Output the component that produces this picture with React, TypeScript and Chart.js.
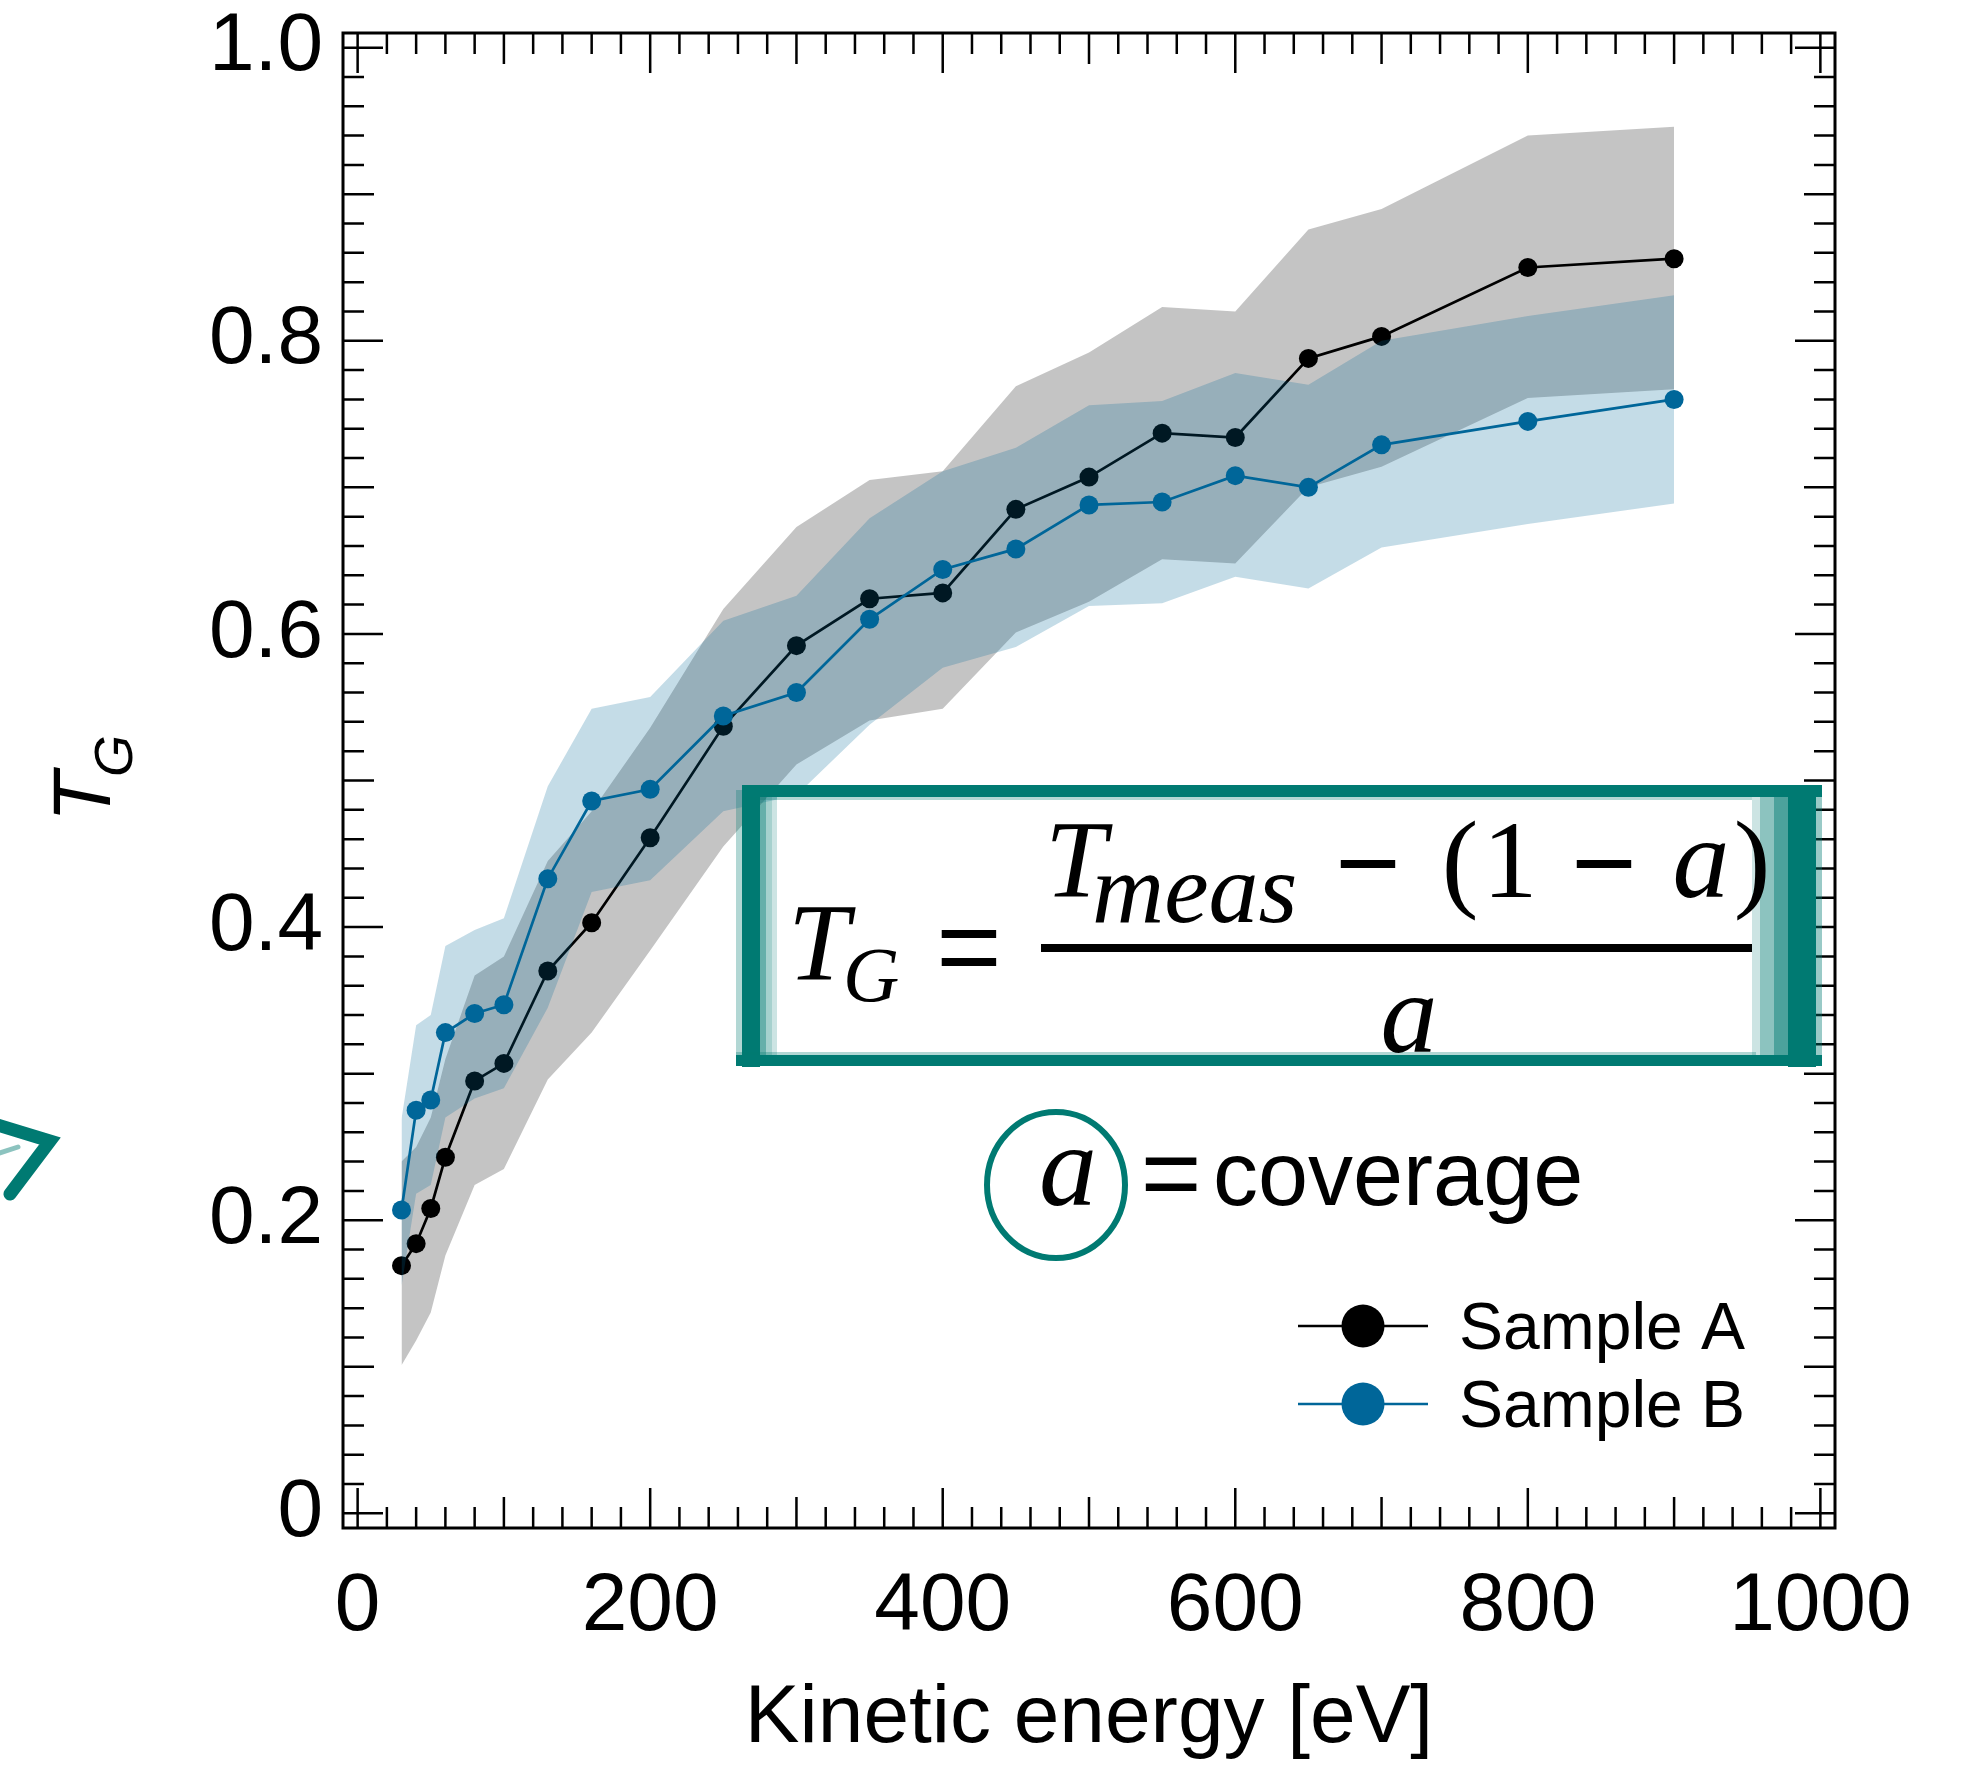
import React, { useEffect, useRef } from 'react';
import { Chart, registerables } from 'chart.js';

Chart.register(...registerables);

// ---------------- data ----------------
const energies = [30, 40, 50, 60, 80, 100, 130, 160, 200, 250, 300, 350, 400, 450, 500, 550, 600, 650, 700, 800, 900];

const sampleA = [0.169, 0.184, 0.208, 0.243, 0.295, 0.307, 0.370, 0.403, 0.461, 0.537, 0.592, 0.624, 0.628, 0.685, 0.707, 0.737, 0.734, 0.788, 0.803, 0.850, 0.856];
const sampleALow = [0.101, 0.118, 0.137, 0.176, 0.224, 0.235, 0.296, 0.328, 0.384, 0.455, 0.511, 0.541, 0.549, 0.601, 0.622, 0.651, 0.648, 0.700, 0.714, 0.761, 0.767];
const sampleAHigh = [0.240, 0.250, 0.270, 0.310, 0.367, 0.380, 0.445, 0.479, 0.536, 0.617, 0.673, 0.705, 0.711, 0.769, 0.792, 0.823, 0.820, 0.876, 0.890, 0.940, 0.946];

const sampleB = [0.207, 0.275, 0.282, 0.328, 0.341, 0.347, 0.433, 0.486, 0.494, 0.544, 0.560, 0.610, 0.644, 0.658, 0.688, 0.690, 0.708, 0.700, 0.729, 0.745, 0.760];
const sampleBLow = [0.155, 0.218, 0.224, 0.270, 0.283, 0.290, 0.345, 0.424, 0.432, 0.479, 0.490, 0.538, 0.577, 0.591, 0.619, 0.621, 0.639, 0.631, 0.659, 0.675, 0.689];
const sampleBHigh = [0.269, 0.333, 0.340, 0.387, 0.398, 0.406, 0.496, 0.549, 0.557, 0.609, 0.626, 0.679, 0.711, 0.727, 0.756, 0.759, 0.778, 0.770, 0.800, 0.817, 0.831];

const xTicks = [0, 200, 400, 600, 800, 1000];
const xTickLabels = ['0', '200', '400', '600', '800', '1000'];
const yTicks = [0, 0.2, 0.4, 0.6, 0.8, 1.0];
const yTickLabels = ['0', '0.2', '0.4', '0.6', '0.8', '1.0'];

const seriesNames = ['Sample A', 'Sample B'];
const xTitle = 'Kinetic energy [eV]';

// ---------------- style ----------------
const SANS = '"Liberation Sans", Arial, Helvetica, sans-serif';
const SERIF = '"Liberation Serif", "Times New Roman", serif';
const BLACK = '#000000';
const BLUE = '#006699';
const TEAL = '#007a72';

const toXY = (ys: number[]) => ys.map((y, i) => ({ x: energies[i], y }));

const framePlugin = {
  id: 'frameTicks',
  afterDraw(chart: any) {
    const { ctx, chartArea, scales } = chart;
    const { left, right, top, bottom } = chartArea;
    const x = scales.x;
    const y = scales.y;
    ctx.save();
    ctx.strokeStyle = '#000';
    ctx.lineWidth = 2.5;
    ctx.beginPath();
    for (let i = 0; i <= 50; i++) {
      const v = i * 20;
      const px = x.getPixelForValue(v);
      const len = i % 10 === 0 ? 40 : i % 5 === 0 ? 31 : 21;
      ctx.moveTo(px, bottom);
      ctx.lineTo(px, bottom - len);
      ctx.moveTo(px, top);
      ctx.lineTo(px, top + len);
    }
    for (let i = 0; i <= 50; i++) {
      const v = i * 0.02;
      const py = y.getPixelForValue(v);
      const len = i % 10 === 0 ? 40 : i % 5 === 0 ? 31 : 21;
      ctx.moveTo(left, py);
      ctx.lineTo(left + len, py);
      ctx.moveTo(right, py);
      ctx.lineTo(right - len, py);
    }
    ctx.stroke();
    ctx.lineWidth = 3;
    ctx.strokeRect(left, top, right - left, bottom - top);

    // y axis title T_G
    ctx.fillStyle = '#000';
    ctx.save();
    ctx.translate(110, 822);
    ctx.rotate(-Math.PI / 2);
    ctx.textAlign = 'left';
    ctx.textBaseline = 'alphabetic';
    ctx.font = `italic 82px ${SANS}`;
    ctx.fillText('T', 0, 0);
    ctx.font = `italic 54px ${SANS}`;
    ctx.fillText('G', 45, 22);
    ctx.restore();

    // legend
    const legendRows = [
      { name: seriesNames[0], color: BLACK, ly: 1326, ty: 1349 },
      { name: seriesNames[1], color: BLUE, ly: 1404, ty: 1427 },
    ];
    for (const r of legendRows) {
      ctx.strokeStyle = r.color;
      ctx.fillStyle = r.color;
      ctx.lineWidth = 2.7;
      ctx.beginPath();
      ctx.moveTo(1298, r.ly);
      ctx.lineTo(1428, r.ly);
      ctx.stroke();
      ctx.beginPath();
      ctx.arc(1363, r.ly, 21.5, 0, Math.PI * 2);
      ctx.fill();
      ctx.fillStyle = '#000';
      ctx.font = `66px ${SANS}`;
      ctx.textAlign = 'left';
      ctx.fillText(r.name, 1459, r.ty);
    }

    // teal annotation box
    ctx.fillStyle = '#ffffff';
    ctx.fillRect(777, 797, 977, 258);
    ctx.fillStyle = TEAL;
    const strips: [number, number, number, number, number][] = [
      // x, y, w, h, alpha
      [736, 790, 6, 276, 0.3],
      [742, 786, 18, 281, 1],
      [760, 790, 6, 272, 0.6],
      [766, 792, 6, 268, 0.35],
      [772, 795, 5, 262, 0.2],
      [1752, 790, 8, 272, 0.2],
      [1760, 788, 14, 276, 0.45],
      [1774, 786, 14, 280, 0.7],
      [1788, 786, 28, 281, 1],
      [1816, 790, 6, 275, 0.4],
      [742, 785, 1080, 12, 1],
      [742, 797, 1010, 3, 0.3],
      [736, 1055, 1086, 11, 1],
      [736, 1052, 1020, 3, 0.3],
    ];
    for (const [sx, sy, sw, sh, a] of strips) {
      ctx.globalAlpha = a;
      ctx.fillRect(sx, sy, sw, sh);
    }
    ctx.globalAlpha = 1;

    // formula
    ctx.fillStyle = '#000';
    const put = (t: string, font: string, px: number, py: number, align: CanvasTextAlign) => {
      ctx.font = font;
      ctx.textAlign = align;
      ctx.fillText(t, px, py);
    };
    put('T', `italic 110px ${SERIF}`, 788, 980, 'left');
    put('G', `italic 78px ${SERIF}`, 843, 1001, 'left');
    put('=', `112px ${SANS}`, 969, 985, 'center');
    ctx.fillRect(1041, 944, 711, 8);
    put('T', `italic 110px ${SERIF}`, 1045, 897, 'left');
    put('meas', `italic 100px ${SERIF}`, 1092, 922, 'left');
    put('\u2212', `112px ${SANS}`, 1368, 901, 'center');
    put('(', `110px ${SERIF}`, 1460, 897, 'center');
    put('1', `110px ${SERIF}`, 1510, 897, 'center');
    put('\u2212', `112px ${SANS}`, 1604, 901, 'center');
    put('a', `italic 114px ${SERIF}`, 1701, 897, 'center');
    put(')', `110px ${SERIF}`, 1752, 897, 'center');
    put('a', `italic 114px ${SERIF}`, 1409, 1052, 'center');

    // a = coverage
    ctx.strokeStyle = TEAL;
    ctx.lineWidth = 6;
    ctx.beginPath();
    ctx.ellipse(1056, 1185, 69, 73, 0, 0, Math.PI * 2);
    ctx.stroke();
    put('a', `italic 116px ${SERIF}`, 1068, 1205, 'center');
    put('=', `104px ${SANS}`, 1171, 1208, 'center');
    put('coverage', `90px ${SANS}`, 1213, 1205, 'left');

    // teal arrow at the left edge
    ctx.strokeStyle = TEAL;
    ctx.lineCap = 'round';
    ctx.lineJoin = 'miter';
    ctx.lineWidth = 13;
    ctx.beginPath();
    ctx.moveTo(-6, 1124);
    ctx.lineTo(50, 1141);
    ctx.lineTo(10, 1194);
    ctx.stroke();
    ctx.globalAlpha = 0.45;
    ctx.lineWidth = 5;
    ctx.beginPath();
    ctx.moveTo(0, 1153);
    ctx.lineTo(18, 1147);
    ctx.stroke();
    ctx.globalAlpha = 1;

    ctx.restore();
  },
};

export default function App() {
  const ref = useRef<HTMLCanvasElement | null>(null);

  useEffect(() => {
    document.body.style.margin = '0';
    const canvas = ref.current;
    if (!canvas) return;
    const band = (label: string, data: number[], order: number) => ({
      label,
      data: toXY(data),
      order,
      borderWidth: 0,
      borderColor: 'rgba(0,0,0,0)',
      pointRadius: 0,
      pointHoverRadius: 0,
      pointHitRadius: 0,
      tension: 0,
    });
    const chart = new Chart(canvas, {
      type: 'line',
      data: {
        datasets: [
          { ...band('A low', sampleALow, 5), fill: false },
          { ...band('A high', sampleAHigh, 4), fill: { target: '-1' }, backgroundColor: 'rgba(0,0,0,0.23)' },
          {
            label: seriesNames[0],
            data: toXY(sampleA),
            order: 3,
            borderColor: BLACK,
            backgroundColor: BLACK,
            borderWidth: 2.7,
            pointRadius: 9.5,
            pointBorderWidth: 0,
            pointBackgroundColor: BLACK,
            fill: false,
            tension: 0,
          },
          { ...band('B low', sampleBLow, 2), fill: false },
          { ...band('B high', sampleBHigh, 1), fill: { target: '-1' }, backgroundColor: 'rgba(0,102,153,0.23)' },
          {
            label: seriesNames[1],
            data: toXY(sampleB),
            order: 0,
            borderColor: BLUE,
            backgroundColor: BLUE,
            borderWidth: 2.7,
            pointRadius: 9.5,
            pointBorderWidth: 0,
            pointBackgroundColor: BLUE,
            fill: false,
            tension: 0,
          },
        ] as any,
      },
      options: {
        animation: false,
        responsive: false,
        maintainAspectRatio: false,
        devicePixelRatio: 1,
        layout: { padding: { top: 33, right: 137, left: 0, bottom: 0 } },
        plugins: {
          legend: { display: false },
          tooltip: { enabled: false },
        },
        events: [],
        scales: {
          x: {
            type: 'linear',
            position: 'bottom',
            min: -10,
            max: 1010,
            grid: { display: false },
            border: { display: false },
            afterBuildTicks: (scale: any) => {
              scale.ticks = xTicks.map((v) => ({ value: v }));
            },
            afterFit: (scale: any) => {
              scale.height = 241;
              scale.paddingLeft = 0;
              scale.paddingRight = 0;
            },
            ticks: {
              autoSkip: false,
              maxRotation: 0,
              minRotation: 0,
              padding: 22,
              color: '#000',
              font: { family: SANS, size: 82 },
              callback: (_v: any, i: number) => xTickLabels[i],
            },
            title: {
              display: true,
              text: xTitle,
              color: '#000',
              font: { family: SANS, size: 82, lineHeight: 1.2 },
              padding: { top: 0, bottom: 0 },
            },
          },
          y: {
            type: 'linear',
            position: 'left',
            min: -0.01,
            max: 1.01,
            grid: { display: false },
            border: { display: false },
            afterBuildTicks: (scale: any) => {
              scale.ticks = yTicks.map((v) => ({ value: v }));
            },
            afterFit: (scale: any) => {
              scale.width = 343;
              scale.paddingTop = 0;
              scale.paddingBottom = 0;
            },
            ticks: {
              autoSkip: false,
              padding: 12,
              color: '#000',
              font: { family: SANS, size: 82 },
              callback: (_v: any, i: number) => yTickLabels[i],
            },
          },
        },
      } as any,
      plugins: [framePlugin],
    });
    return () => chart.destroy();
  }, []);

  return (
    <div style={{ width: 1972, height: 1769, background: '#fff' }}>
      <canvas ref={ref} width={1972} height={1769} style={{ display: 'block', width: 1972, height: 1769 }} />
    </div>
  );
}
